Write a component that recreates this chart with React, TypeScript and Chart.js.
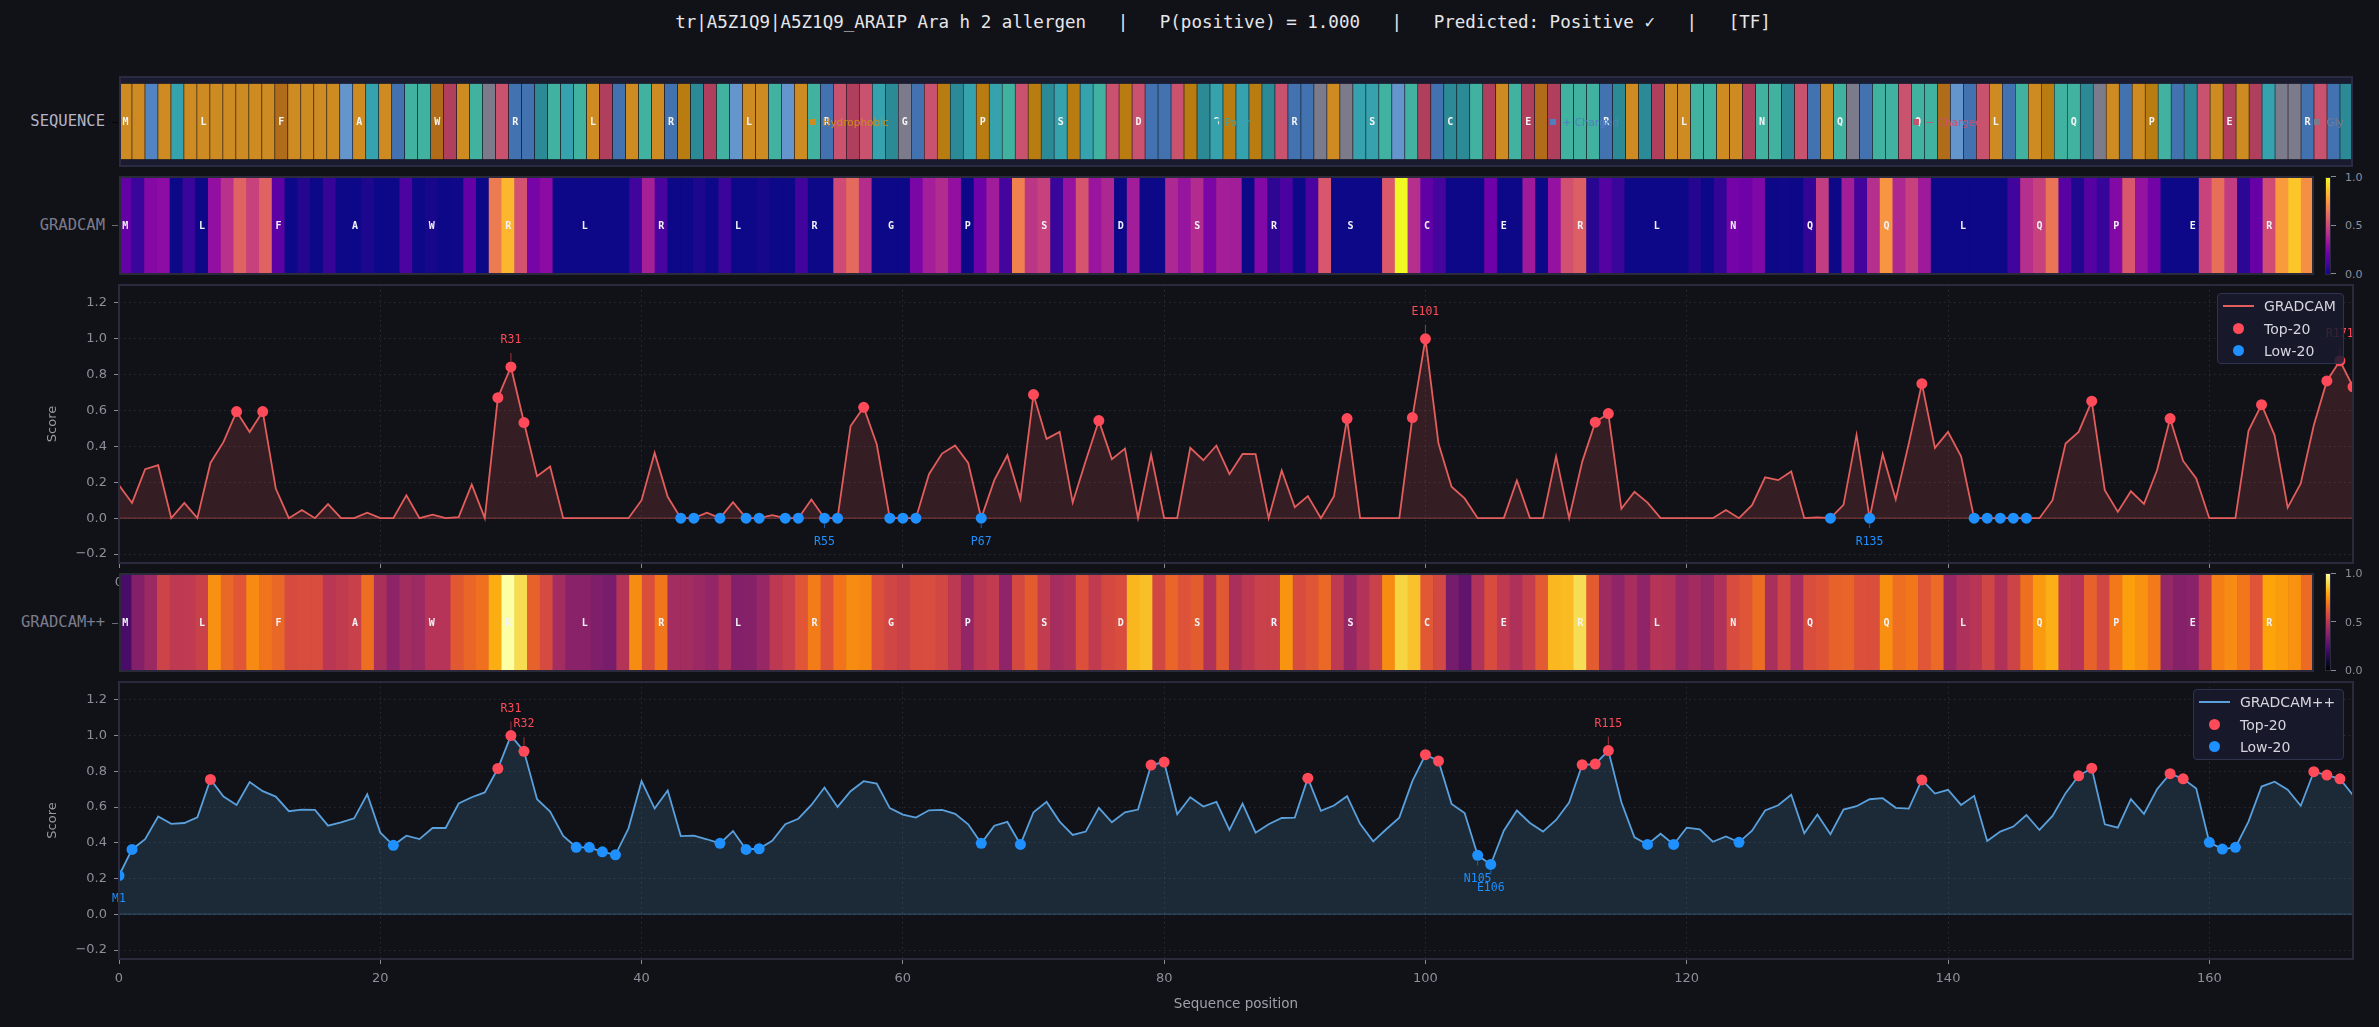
import React, { useEffect, useRef } from 'react';
import { Chart, registerables } from 'chart.js';

Chart.register(...registerables);

const BG = '#111217';
const MONO = '"DejaVu Sans Mono", "Liberation Mono", monospace';
const SANS = '"DejaVu Sans", "Liberation Sans", sans-serif';

const TITLE = 'tr|A5Z1Q9|A5Z1Q9_ARAIP Ara h 2 allergen   |   P(positive) = 1.000   |   Predicted: Positive \u2713   |   [TF]';

const SEQ =
  'MLKLSLLLLL' + 'LLFLLLLHAS' + 'LRQQWELQGD' + 'RRTQSQLERL' + 'QLRPTEQHLL' +
  'QHLQRDEDST' + 'GRDPTSPSQD' + 'PTSPSQDPDR' + 'RDPTSPSPTD' + 'RRGLGSSQHQ' +
  'ERCTNELQEF' + 'EQQQRTLTEL' + 'LQQLLENQTD' + 'RLQGRQQDQQ' + 'FHRDLRQLPQ' +
  'QTGLRLPQRT' + 'DLELESGGRD' + 'RT';

const GRADCAM = [
  0.184, 0.085, 0.273, 0.295, 0, 0.085, 0, 0.308, 0.425, 0.594,
  0.48, 0.594, 0.165, 0, 0.045, 0, 0.078, 0, 0, 0.03,
  0, 0, 0.128, 0, 0.019, 0, 0.006, 0.188, 0, 0.672,
  0.843, 0.533, 0.234, 0.288, 0, 0, 0, 0, 0, 0,
  0.1, 0.364, 0.119, 0, 0, 0.03, 0, 0.089, 0, 0,
  0.017, 0, 0, 0.104, 0, 0, 0.514, 0.618, 0.412, 0,
  0, 0, 0.245, 0.36, 0.405, 0.308, 0, 0.212, 0.351, 0.108,
  0.689, 0.442, 0.481, 0.087, 0.32, 0.544, 0.329, 0.388, 0, 0.355,
  0, 0, 0.392, 0.323, 0.405, 0.245, 0.358, 0.357, 0, 0.266,
  0.061, 0.123, 0, 0.123, 0.555, 0, 0, 0, 0, 0.561,
  1.0, 0.416, 0.175, 0.11, 0, 0, 0, 0.21, 0, 0,
  0.345, 0, 0.314, 0.535, 0.583, 0.052, 0.147, 0.087, 0, 0,
  0, 0, 0, 0.045, 0, 0.072, 0.228, 0.212, 0.26, 0,
  0.004, 0, 0.074, 0.464, 0, 0.357, 0.104, 0.416, 0.75, 0.392,
  0.481, 0.345, 0, 0, 0, 0, 0, 0, 0.1, 0.416,
  0.481, 0.652, 0.156, 0.035, 0.15, 0.08, 0.267, 0.555, 0.319, 0.221,
  0, 0, 0, 0.487, 0.633, 0.462, 0.059, 0.193, 0.518, 0.765,
  0.877, 0.732,
];

const GRADCAM_PP = [
  0.217, 0.363, 0.42, 0.547, 0.506, 0.511, 0.543, 0.755, 0.659, 0.612,
  0.74, 0.689, 0.659, 0.577, 0.586, 0.584, 0.496, 0.515, 0.537, 0.672,
  0.457, 0.386, 0.44, 0.421, 0.483, 0.483, 0.62, 0.655, 0.682, 0.816,
  1.0, 0.912, 0.644, 0.575, 0.438, 0.375, 0.375, 0.35, 0.333, 0.481,
  0.745, 0.592, 0.693, 0.438, 0.44, 0.42, 0.397, 0.466, 0.363, 0.367,
  0.412, 0.504, 0.535, 0.612, 0.71, 0.601, 0.689, 0.745, 0.732, 0.594,
  0.558, 0.541, 0.582, 0.584, 0.562, 0.504, 0.397, 0.496, 0.517, 0.391,
  0.571, 0.629, 0.519, 0.444, 0.463, 0.596, 0.515, 0.571, 0.586, 0.835,
  0.852, 0.56, 0.655, 0.603, 0.629, 0.472, 0.62, 0.457, 0.504, 0.539,
  0.541, 0.762, 0.579, 0.609, 0.661, 0.506, 0.408, 0.476, 0.541, 0.745,
  0.893, 0.858, 0.618, 0.567, 0.33, 0.279, 0.468, 0.581, 0.511, 0.463,
  0.528, 0.625, 0.837, 0.841, 0.916, 0.627, 0.431, 0.391, 0.451, 0.391,
  0.485, 0.476, 0.406, 0.436, 0.403, 0.468, 0.581, 0.61, 0.669, 0.453,
  0.558, 0.448, 0.586, 0.605, 0.644, 0.65, 0.596, 0.592, 0.752, 0.676,
  0.697, 0.612, 0.663, 0.41, 0.463, 0.491, 0.556, 0.472, 0.551, 0.678,
  0.775, 0.818, 0.504, 0.485, 0.644, 0.562, 0.7, 0.787, 0.758, 0.704,
  0.403, 0.365, 0.375, 0.519, 0.715, 0.742, 0.697, 0.607, 0.798, 0.779,
  0.758, 0.667,
];

const TOP_GC = [9, 11, 29, 30, 31, 57, 70, 75, 94, 99, 100, 113, 114, 138, 151, 157, 164, 169, 170, 171];
const LOW_GC = [43, 44, 46, 48, 49, 51, 52, 54, 55, 59, 60, 61, 66, 131, 134, 142, 143, 144, 145, 146];
const TOP_PP = [7, 29, 30, 31, 79, 80, 91, 100, 101, 112, 113, 114, 138, 150, 151, 157, 158, 168, 169, 170];
const LOW_PP = [0, 1, 21, 35, 36, 37, 38, 46, 48, 49, 66, 69, 104, 105, 117, 119, 124, 160, 161, 162];
const LABEL_TOP_GC = [30, 100, 170];
const LABEL_LOW_GC = [54, 66, 134];
const LABEL_TOP_PP = [30, 31, 114];
const LABEL_LOW_PP = [0, 104, 105];

const X_TICKS = [0, 20, 40, 60, 80, 100, 120, 140, 160];
const Y_TICKS = [-0.2, 0, 0.2, 0.4, 0.6, 0.8, 1.0, 1.2];
const CBAR_TICKS = [1.0, 0.5, 0.0];
const LETTER_STEP = 6;

const RESIDUE_COLORS: Record<string, string> = {
  M: '#cd8b22', L: '#cd8b22', A: '#cd8b22', V: '#cd8b22', I: '#cd8b22',
  P: '#b97c10', F: '#b06c18', W: '#b06c18',
  Q: '#42b2a0', N: '#42b2a0', S: '#36a2ae', T: '#2b8a95', C: '#2b8a95', Y: '#2b8a95',
  R: '#4272b0', K: '#5283c2', H: '#6495cc',
  D: '#c9526f', E: '#b03f5e', G: '#7b7b8b',
};

const SEQ_LEGEND = [
  { label: 'Hydrophobic', color: '#d08c1e', x: 813 },
  { label: 'Polar', color: '#36a2ae', x: 1215 },
  { label: '+ Charged', color: '#4f7fbf', x: 1553 },
  { label: '\u2212 Charged', color: '#c9526f', x: 1916 },
  { label: 'Gly', color: '#7b7b8b', x: 2317 },
];

const PLASMA = ['#0d0887', '#41049d', '#6a00a8', '#8f0da4', '#b12a90', '#cc4778', '#e16462', '#f2844b', '#fca636', '#fcce25', '#f0f921'];
const INFERNO = ['#000004', '#160b39', '#420a68', '#6a176e', '#932667', '#bc3754', '#dd513a', '#f37819', '#fca50a', '#f6d746', '#fcffa4'];

const TOP_COLOR = '#ff4a5a';
const LOW_COLOR = '#1e90ff';

function hexRgb(h: string) {
  return [parseInt(h.slice(1, 3), 16), parseInt(h.slice(3, 5), 16), parseInt(h.slice(5, 7), 16)];
}
function cmap(stops: string[], v: number) {
  const t = Math.max(0, Math.min(1, v)) * (stops.length - 1);
  const i = Math.min(Math.floor(t), stops.length - 2);
  const f = t - i;
  const a = hexRgb(stops[i]);
  const b = hexRgb(stops[i + 1]);
  const c = a.map((x, k) => Math.round(x + (b[k] - x) * f));
  return `rgb(${c[0]},${c[1]},${c[2]})`;
}

function framePlugin(color: string, width: number, bg?: string, inset = false) {
  return {
    id: 'frame',
    beforeDraw(chart: any) {
      if (!bg) return;
      const { ctx, chartArea: a } = chart;
      ctx.save();
      ctx.fillStyle = bg;
      ctx.fillRect(a.left, a.top, a.right - a.left, a.bottom - a.top);
      ctx.restore();
    },
    afterDraw(chart: any) {
      const { ctx, chartArea: a } = chart;
      const o = inset ? width / 2 : 0;
      ctx.save();
      ctx.strokeStyle = color;
      ctx.lineWidth = width;
      ctx.strokeRect(a.left + o, a.top + o, a.right - a.left - 2 * o, a.bottom - a.top - 2 * o);
      ctx.restore();
    },
  };
}

function lettersPlugin(color: string) {
  return {
    id: 'letters',
    afterDatasetsDraw(chart: any) {
      const { ctx, chartArea: a, scales } = chart;
      ctx.save();
      ctx.font = `bold 10px ${MONO}`;
      ctx.fillStyle = color;
      ctx.textAlign = 'center';
      ctx.textBaseline = 'middle';
      for (let i = 0; i < SEQ.length; i += LETTER_STEP) {
        ctx.fillText(SEQ[i], scales.x.getPixelForValue(i), (a.top + a.bottom) / 2 + 0.5);
      }
      ctx.restore();
    },
  };
}

function zeroPlugin(color: string) {
  return {
    id: 'zero',
    beforeDatasetsDraw(chart: any) {
      const { ctx, chartArea: a, scales } = chart;
      const y0 = scales.y.getPixelForValue(0);
      ctx.save();
      ctx.strokeStyle = color;
      ctx.lineWidth = 1.5;
      ctx.beginPath();
      ctx.moveTo(a.left, y0);
      ctx.lineTo(a.right, y0);
      ctx.stroke();
      ctx.restore();
    },
  };
}

function annotatePlugin(values: number[], up: number[], down: number[]) {
  return {
    id: 'annot',
    afterDatasetsDraw(chart: any) {
      const { ctx, scales } = chart;
      ctx.save();
      ctx.font = `11.5px ${MONO}`;
      ctx.textAlign = 'center';
      ctx.textBaseline = 'middle';
      ctx.lineWidth = 1;
      up.forEach((i) => {
        const px = scales.x.getPixelForValue(i);
        const py = scales.y.getPixelForValue(values[i]);
        ctx.strokeStyle = 'rgba(255,74,90,0.6)';
        ctx.beginPath();
        ctx.moveTo(px, py - 6);
        ctx.lineTo(px, py - 14);
        ctx.stroke();
        ctx.fillStyle = TOP_COLOR;
        ctx.fillText(SEQ[i] + (i + 1), px, py - 27);
      });
      down.forEach((i) => {
        const px = scales.x.getPixelForValue(i);
        const py = scales.y.getPixelForValue(values[i]);
        ctx.strokeStyle = 'rgba(30,144,255,0.6)';
        ctx.beginPath();
        ctx.moveTo(px, py + 6);
        ctx.lineTo(px, py + 10);
        ctx.stroke();
        ctx.fillStyle = LOW_COLOR;
        ctx.fillText(SEQ[i] + (i + 1), px, py + 23.5);
      });
      ctx.restore();
    },
  };
}

function ChartCanvas({ left, top, width, height, make }: { left: number; top: number; width: number; height: number; make: () => any }) {
  const ref = useRef<HTMLCanvasElement>(null);
  useEffect(() => {
    const chart = new Chart(ref.current as HTMLCanvasElement, make());
    return () => chart.destroy();
  }, []);
  return (
    <canvas
      ref={ref}
      width={width}
      height={height}
      style={{ position: 'absolute', left, top, width, height, display: 'block' }}
    />
  );
}

function seqConfig() {
  const letters = SEQ.split('');
  return {
    type: 'bar',
    data: {
      labels: letters.map((_, i) => String(i)),
      datasets: [
        {
          data: letters.map(() => 1),
          backgroundColor: letters.map((c) => RESIDUE_COLORS[c] || '#888'),
          borderColor: '#15151d',
          borderWidth: 0.6,
          borderSkipped: false,
          barPercentage: 1,
          categoryPercentage: 1,
        },
      ],
    },
    options: {
      animation: false,
      responsive: false,
      maintainAspectRatio: false,
      layout: { padding: 0 },
      plugins: { legend: { display: false }, tooltip: { enabled: false } },
      scales: {
        x: { display: false },
        y: { display: false, min: -0.1, max: 1.1 },
      },
    },
    plugins: [framePlugin('#2a2a42', 2, '#1b1b30', true), lettersPlugin('#f4f4f4')],
  };
}

function heatConfig(values: number[], stops: string[]) {
  return {
    type: 'bar',
    data: {
      labels: values.map((_, i) => String(i)),
      datasets: [
        {
          data: values.map(() => 1),
          backgroundColor: values.map((v) => cmap(stops, v)),
          borderWidth: 0,
          barPercentage: 1,
          categoryPercentage: 1,
        },
      ],
    },
    options: {
      animation: false,
      responsive: false,
      maintainAspectRatio: false,
      layout: { padding: 0 },
      plugins: { legend: { display: false }, tooltip: { enabled: false } },
      scales: {
        x: { display: false },
        y: { display: false, min: 0, max: 1 },
      },
    },
    plugins: [framePlugin('#2a2a3a', 2, undefined, true), lettersPlugin('#f2f2f8')],
  };
}

function lineConfig(opts: {
  name: string;
  values: number[];
  top: number[];
  low: number[];
  labelTop: number[];
  labelLow: number[];
  lineColor: string;
  fillColor: string;
  zeroColor: string;
  xHeight: number;
  xTitle?: string;
}) {
  const { values } = opts;
  const tickFont = { family: SANS, size: 13 };
  return {
    type: 'line',
    data: {
      datasets: [
        {
          label: 'Low-20',
          data: opts.low.map((i) => ({ x: i, y: values[i] })),
          showLine: false,
          pointRadius: 5.5,
          pointBackgroundColor: LOW_COLOR,
          pointBorderWidth: 0,
          clip: 0,
          order: 0,
        },
        {
          label: 'Top-20',
          data: opts.top.map((i) => ({ x: i, y: values[i] })),
          showLine: false,
          pointRadius: 5.5,
          pointBackgroundColor: TOP_COLOR,
          pointBorderWidth: 0,
          clip: 0,
          order: 1,
        },
        {
          label: opts.name,
          data: values.map((v, i) => ({ x: i, y: v })),
          borderColor: opts.lineColor,
          borderWidth: 1.8,
          pointRadius: 0,
          tension: 0,
          fill: 'origin',
          backgroundColor: opts.fillColor,
          clip: 0,
          order: 2,
        },
      ],
    },
    options: {
      animation: false,
      responsive: false,
      maintainAspectRatio: false,
      layout: { padding: { top: 20, right: 26, left: 0, bottom: 0 } },
      plugins: { legend: { display: false }, tooltip: { enabled: false } },
      scales: {
        x: {
          type: 'linear',
          min: 0,
          max: SEQ.length - 1,
          afterBuildTicks: (s: any) => {
            s.ticks = X_TICKS.map((v) => ({ value: v }));
          },
          afterFit: (s: any) => {
            s.height = opts.xHeight;
          },
          grid: { color: '#2a2b34', lineWidth: 1, tickColor: '#8a8a96', tickLength: 5, tickWidth: 1 },
          border: { display: false, dash: [1.5, 3.5] },
          ticks: { color: '#8e8e9a', font: tickFont, padding: 7, maxRotation: 0, autoSkip: false, callback: (v: number) => String(v) },
          title: opts.xTitle
            ? { display: true, text: opts.xTitle, color: '#a0a0aa', font: { family: SANS, size: 13.5 }, padding: { top: 4, bottom: 14 } }
            : { display: false },
        },
        y: {
          type: 'linear',
          min: -0.25,
          max: 1.3,
          afterBuildTicks: (s: any) => {
            s.ticks = Y_TICKS.map((v) => ({ value: v }));
          },
          afterFit: (s: any) => {
            s.width = 119;
          },
          grid: { color: '#2a2b34', lineWidth: 1, tickColor: '#8a8a96', tickLength: 5, tickWidth: 1 },
          border: { display: false, dash: [1.5, 3.5] },
          ticks: {
            color: '#8e8e9a',
            font: tickFont,
            padding: 7,
            autoSkip: false,
            callback: (v: number) => (v < -1e-9 ? '\u2212' : '') + Math.abs(v).toFixed(1),
          },
          title: { display: true, text: 'Score', color: '#9a9aa6', font: { family: SANS, size: 13 }, padding: { top: 45, bottom: 0 } },
        },
      },
    },
    plugins: [
      zeroPlugin(opts.zeroColor),
      framePlugin('#2a2a3c', 2),
      annotatePlugin(values, opts.labelTop, opts.labelLow),
    ],
  };
}

function Txt({ x, y, children, style, align = 'left' }: { x: number; y: number; children: any; style?: any; align?: 'left' | 'right' | 'center' }) {
  const tx = align === 'left' ? '0' : align === 'right' ? '-100%' : '-50%';
  return (
    <div
      style={{
        position: 'absolute',
        left: x,
        top: y,
        transform: `translate(${tx}, -50%)`,
        whiteSpace: 'pre',
        lineHeight: 1,
        ...style,
      }}
    >
      {children}
    </div>
  );
}

function Colorbar({ top, stops }: { top: number; stops: string[] }) {
  const h = 98;
  const grad = `linear-gradient(to top, ${stops.map((c, i) => `${c} ${(i * 100) / (stops.length - 1)}%`).join(', ')})`;
  return (
    <>
      <div style={{ position: 'absolute', left: 2325, top, width: 6, height: h, background: grad, border: '1px solid #2a2a3a', boxSizing: 'border-box' }} />
      {CBAR_TICKS.map((t) => {
        const y = top + (1 - t) * (h - 1);
        return (
          <React.Fragment key={t}>
            <div style={{ position: 'absolute', left: 2331, top: y - 0.5, width: 5, height: 1, background: '#8a8a96' }} />
            <Txt x={2345} y={y} style={{ fontFamily: SANS, fontSize: 11, color: '#8e8e9a' }}>
              {t.toFixed(1)}
            </Txt>
          </React.Fragment>
        );
      })}
    </>
  );
}

function Legend({ left, top, width, name, lineColor }: { left: number; top: number; width: number; name: string; lineColor: string }) {
  const textStyle = { fontFamily: SANS, fontSize: 14, color: '#d6d6de' };
  return (
    <div
      style={{
        position: 'absolute',
        left,
        top,
        width,
        height: 71,
        background: 'rgba(24,27,46,0.86)',
        border: '1px solid #2e3352',
        borderRadius: 4,
        boxSizing: 'border-box',
      }}
    >
      <div style={{ position: 'absolute', left: 5, top: 11, width: 31, height: 2, background: lineColor }} />
      <Txt x={46} y={12} style={textStyle}>{name}</Txt>
      <div style={{ position: 'absolute', left: 15, top: 29, width: 11, height: 11, borderRadius: '50%', background: TOP_COLOR }} />
      <Txt x={46} y={34.5} style={textStyle}>Top-20</Txt>
      <div style={{ position: 'absolute', left: 15, top: 51, width: 11, height: 11, borderRadius: '50%', background: LOW_COLOR }} />
      <Txt x={46} y={56.5} style={textStyle}>Low-20</Txt>
    </div>
  );
}

export default function App() {
  const yLabelStyle = { fontFamily: MONO, fontSize: 15.5 };
  return (
    <div style={{ position: 'fixed', left: 0, top: 0, width: 2379, height: 1027, background: BG, overflow: 'hidden' }}>
      <Txt x={1223} y={23} align="center" style={{ fontFamily: MONO, fontSize: 17.5, color: '#e6e6ea' }}>
        {TITLE}
      </Txt>

      <Txt x={105} y={122} align="right" style={{ ...yLabelStyle, color: '#b4b4c8' }}>SEQUENCE</Txt>
      <div style={{ position: 'absolute', left: 112, top: 121.5, width: 6, height: 1.2, background: '#050505' }} />
      <Txt x={105} y={225.5} align="right" style={{ ...yLabelStyle, color: '#7c7c8c' }}>GRADCAM</Txt>
      <div style={{ position: 'absolute', left: 112, top: 225, width: 6, height: 1.2, background: '#6a6a78' }} />
      <Txt x={105} y={623} align="right" style={{ ...yLabelStyle, color: '#7c7c8c' }}>GRADCAM++</Txt>
      <div style={{ position: 'absolute', left: 112, top: 622.5, width: 6, height: 1.2, background: '#6a6a78' }} />

      <ChartCanvas left={119} top={76} width={2234} height={91} make={seqConfig} />
      {SEQ_LEGEND.map((e) => (
        <React.Fragment key={e.label}>
          <div style={{ position: 'absolute', left: e.x - 3, top: 119, width: 6, height: 6, background: e.color }} />
          <Txt x={e.x + 9.5} y={122} style={{ fontFamily: SANS, fontSize: 10.5, color: e.color }}>{e.label}</Txt>
        </React.Fragment>
      ))}

      <ChartCanvas left={119} top={176} width={2195} height={99} make={() => heatConfig(GRADCAM, PLASMA)} />
      <Colorbar top={176.5} stops={PLASMA} />

      <ChartCanvas
        left={0}
        top={265}
        width={2379}
        height={340}
        make={() =>
          lineConfig({
            name: 'GRADCAM',
            values: GRADCAM,
            top: TOP_GC,
            low: LOW_GC,
            labelTop: LABEL_TOP_GC,
            labelLow: LABEL_LOW_GC,
            lineColor: '#e35d5d',
            fillColor: 'rgba(227,93,93,0.17)',
            zeroColor: 'rgba(227,93,93,0.35)',
            xHeight: 42,
          })
        }
      />

      <ChartCanvas left={119} top={573} width={2195} height={99} make={() => heatConfig(GRADCAM_PP, INFERNO)} />
      <Colorbar top={573} stops={INFERNO} />

      <ChartCanvas
        left={0}
        top={662}
        width={2379}
        height={365}
        make={() =>
          lineConfig({
            name: 'GRADCAM++',
            values: GRADCAM_PP,
            top: TOP_PP,
            low: LOW_PP,
            labelTop: LABEL_TOP_PP,
            labelLow: LABEL_LOW_PP,
            lineColor: '#5aa0dc',
            fillColor: 'rgba(90,160,220,0.16)',
            zeroColor: 'rgba(90,160,220,0.28)',
            xHeight: 68,
            xTitle: 'Sequence position',
          })
        }
      />

      <Legend left={2217} top={293} width={127} name="GRADCAM" lineColor="#e35d5d" />
      <Legend left={2193} top={689} width={151} name="GRADCAM++" lineColor="#5aa0dc" />
    </div>
  );
}
